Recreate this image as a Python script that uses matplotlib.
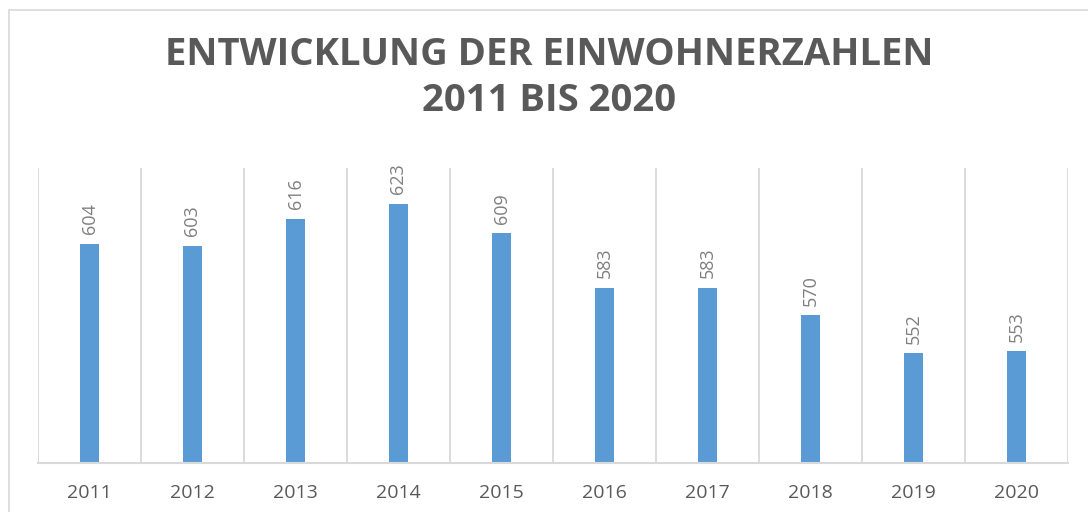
import matplotlib

matplotlib.use("Agg")
import matplotlib.pyplot as plt
from matplotlib.patches import Rectangle

years = ["2011", "2012", "2013", "2014", "2015", "2016", "2017", "2018", "2019", "2020"]
einwohner = [604, 603, 616, 623, 609, 583, 583, 570, 552, 553]
title = "ENTWICKLUNG DER EINWOHNERZAHLEN\n2011 BIS 2020"

plt.rcParams["font.family"] = ["Open Sans", "DejaVu Sans"]

fig = plt.figure(figsize=(10.88, 5.12), dpi=100)
# outer chart border (cropped on the right and bottom)
fig.patches.append(Rectangle((9 / 1088, -0.05), 1.1, 1 - 10 / 512 + 0.05,
                             transform=fig.transFigure, fill=False,
                             edgecolor="#d9d9d9", linewidth=1.2))

ax = fig.add_axes([38 / 1088, 49 / 512, 1030 / 1088, 295 / 512])
x = list(range(len(years)))
bars = ax.bar(x, einwohner, width=0.18, color="#5b9bd5", zorder=2)

ax.set_xlim(-0.5, len(years) - 0.5)
ax.set_ylim(500, 640)
ax.set_yticks([])
ax.set_xticks(x)
ax.set_xticklabels(years, fontsize=14, color="#595959")
ax.tick_params(axis="x", length=0, pad=15)

for i in range(len(years) + 1):
    ax.axvline(i - 0.5, color="#d9d9d9", linewidth=1.3, zorder=1)

for s in ["top", "left", "right"]:
    ax.spines[s].set_visible(False)
ax.spines["bottom"].set_color("#d9d9d9")
ax.spines["bottom"].set_linewidth(1.5)

for xi, v in zip(x, einwohner):
    ax.annotate(str(v), (xi, v), xytext=(0, 7), textcoords="offset points",
                rotation=90, ha="center", va="bottom", fontsize=13, color="#7f7f7f")

fig.text(0.505, 1 - 78 / 512, title, ha="center", va="center", fontsize=27.5,
         fontweight="bold", color="#595959", linespacing=1.25)

fig.savefig("out.png", dpi=100)
